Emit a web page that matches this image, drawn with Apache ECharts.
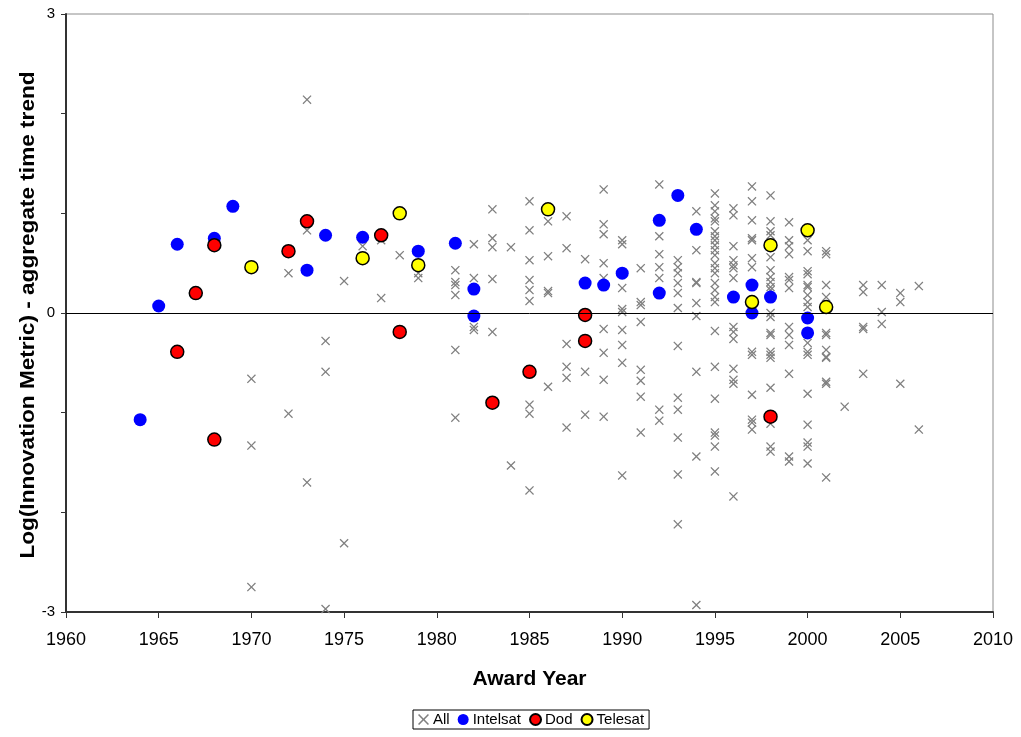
<!DOCTYPE html>
<html>
<head>
<meta charset="UTF-8">
<title>Award Year scatter</title>
<script src="https://cdn.jsdelivr.net/npm/echarts@6/dist/echarts.min.js"></script>
<style>
  html, body { margin: 0; padding: 0; background: #fff; }
</style>
</head>
<body>
<div id="main" style="width:1021px;height:737px;"></div>
<script type="text/javascript">
// gray "All" marks, one row per award year: [year, values...]
var allRows = [
  [1970, -0.66, -1.33, -2.75],
  [1972, 0.40, -1.01],
  [1973, 2.14, 0.83, -1.70],
  [1974, -0.28, -0.59, -2.97],
  [1975, 0.32, -2.31],
  [1976, 0.67],
  [1977, 0.73, 0.15],
  [1978, 0.58],
  [1979, 0.40, 0.35],
  [1981, 0.43, 0.31, 0.28, 0.18, -0.37, -1.05],
  [1982, 0.69, 0.35, -0.14, -0.17],
  [1983, 1.04, 0.75, 0.66, 0.34, -0.19],
  [1984, 0.66, -1.53],
  [1985, 1.12, 0.83, 0.53, 0.33, 0.23, 0.12, -0.92, -1.01, -1.78],
  [1986, 0.92, 0.57, 0.22, 0.20, -0.74],
  [1987, 0.97, 0.65, -0.31, -0.54, -0.65, -1.15],
  [1988, 0.54, -0.59, -1.02],
  [1989, 1.24, 0.89, 0.79, 0.50, 0.35, -0.16, -0.40, -0.67, -1.04],
  [1990, 0.73, 0.69, 0.25, 0.04, 0.01, -0.17, -0.32, -0.50, -1.63],
  [1991, 0.45, 0.11, 0.08, -0.09, -0.57, -0.68, -0.84, -1.20],
  [1992, 1.29, 0.77, 0.59, 0.46, 0.35, -0.97, -1.08],
  [1993, 0.53, 0.46, 0.40, 0.30, 0.20, 0.05, -0.33, -0.85, -0.97, -1.25, -1.62, -2.12],
  [1994, 1.02, 0.63, 0.31, 0.30, 0.10, -0.03, -0.59, -1.44, -2.93],
  [1995, 1.20, 1.08, 1.02, 0.95, 0.92, 0.82, 0.77, 0.73, 0.68, 0.63, 0.58, 0.50, 0.45, 0.40, 0.30, 0.23, 0.16, 0.11, -0.18, -0.54, -0.86, -1.20, -1.23, -1.34, -1.59],
  [1996, 1.05, 0.98, 0.67, 0.53, 0.48, 0.45, 0.35, -0.14, -0.19, -0.26, -0.56, -0.67, -0.71, -1.84],
  [1997, 1.27, 1.12, 0.93, 0.75, 0.73, 0.55, 0.46, -0.39, -0.42, -0.82, -1.07, -1.10, -1.17],
  [1998, 1.18, 0.92, 0.82, 0.78, 0.56, 0.43, 0.36, 0.31, 0.26, 0.23, 0.00, -0.04, -0.20, -0.22, -0.39, -0.42, -0.45, -0.75, -1.11, -1.34, -1.39],
  [1999, 0.91, 0.73, 0.67, 0.59, 0.36, 0.33, 0.25, -0.14, -0.22, -0.32, -0.61, -1.44, -1.49],
  [2000, 0.73, 0.62, 0.42, 0.39, 0.28, 0.26, 0.18, 0.11, 0.06, -0.30, -0.39, -0.42, -0.81, -1.12, -1.30, -1.34, -1.51],
  [2001, 0.62, 0.59, 0.28, 0.16, -0.20, -0.22, -0.37, -0.44, -0.45, -0.69, -0.71, -1.65],
  [2002, -0.94],
  [2003, 0.28, 0.21, -0.14, -0.16, -0.61],
  [2004, 0.28, 0.01, -0.11],
  [2005, 0.20, 0.11, -0.71],
  [2006, 0.27, -1.17]
];

var intelsatPoints = [
  [1964, -1.07], [1965, 0.07], [1966, 0.69], [1968, 0.75], [1969, 1.07],
  [1973, 0.43], [1974, 0.78], [1976, 0.76], [1979, 0.62], [1981, 0.70],
  [1982, 0.24], [1982, -0.03], [1988, 0.30], [1989, 0.28], [1990, 0.40],
  [1992, 0.93], [1992, 0.20], [1993, 1.18], [1994, 0.84], [1996, 0.16],
  [1997, 0.28], [1997, 0.00], [1998, 0.16], [2000, -0.05], [2000, -0.20]
];

var dodPoints = [
  [1966, -0.39], [1967, 0.20], [1968, 0.68], [1968, -1.27], [1972, 0.62],
  [1973, 0.92], [1977, 0.78], [1978, -0.19], [1983, -0.90], [1985, -0.59],
  [1988, -0.02], [1988, -0.28], [1998, -1.04]
];

var telesatPoints = [
  [1970, 0.46], [1976, 0.55], [1978, 1.00], [1979, 0.48], [1986, 1.04],
  [1997, 0.11], [1998, 0.68], [2000, 0.83], [2001, 0.06]
];

var yLabelValues = [-3, 0, 3];

var allPoints = [];
allRows.forEach(function (row) {
  for (var i = 1; i < row.length; i++) allPoints.push([row[0], row[i]]);
});

var font = "'Liberation Sans', Arial, sans-serif";
var crossPath = 'path://M0,1L1,0L5,4L9,0L10,1L6,5L10,9L9,10L5,6L1,10L0,9L4,5Z';

var myChart = echarts.init(document.getElementById('main'));

var option = {
  animation: false,
  backgroundColor: '#fff',
  textStyle: { fontFamily: font },
  grid: {
    left: 66, right: 28, top: 14, bottom: 125,
    show: true, borderColor: '#8c8c8c', borderWidth: 1
  },
  // y axis title, stretched a little along its length like the original
  graphic: [{
    type: 'text', x: 28, y: 315, rotation: Math.PI / 2, scaleX: 1.13,
    style: {
      text: 'Log(Innovation Metric) - aggregate time trend',
      font: 'bold 20px ' + font, fill: '#000',
      textAlign: 'center', textVerticalAlign: 'middle'
    }
  }],
  legend: {
    left: 413, top: 710,
    borderColor: '#000', borderWidth: 1, padding: [2, 5],
    itemGap: 8, itemWidth: 11, itemHeight: 11,
    textStyle: { fontFamily: font, fontSize: 15, color: '#000', padding: [0, 0, 0, -1] },
    data: ['All', 'Intelsat', 'Dod', 'Telesat']
  },
  xAxis: {
    type: 'value', min: 1960, max: 2010, interval: 5,
    name: 'Award Year', nameLocation: 'middle', nameGap: 57,
    nameTextStyle: { fontFamily: font, fontSize: 21, fontWeight: 'bold', color: '#000' },
    axisLine: { onZero: false, lineStyle: { color: '#333', width: 2 } },
    axisTick: { show: true, length: 6, lineStyle: { color: '#333' } },
    axisLabel: {
      fontFamily: font, fontSize: 18, color: '#000', margin: 19,
      formatter: function (v) { return String(v); }
    },
    splitLine: { show: false }
  },
  yAxis: {
    type: 'value', min: -3, max: 3, interval: 1,
    axisLine: { show: true, onZero: false, lineStyle: { color: '#333', width: 2 } },
    axisTick: { show: true, length: 5, lineStyle: { color: '#333' } },
    axisLabel: {
      fontFamily: font, fontSize: 15, color: '#000', margin: 11,
      formatter: function (v) { return yLabelValues.indexOf(v) >= 0 ? String(v) : ''; }
    },
    splitLine: { show: false }
  },
  series: [
    {
      name: 'All', type: 'scatter', data: allPoints,
      symbol: crossPath, symbolSize: 9,
      itemStyle: { color: '#808080', opacity: 1 },
      markLine: {
        silent: true, symbol: 'none', label: { show: false },
        lineStyle: { color: '#000', width: 1, type: 'solid' },
        data: [{ yAxis: 0 }]
      },
      z: 2
    },
    {
      name: 'Intelsat', type: 'scatter', data: intelsatPoints,
      symbol: 'circle', symbolSize: 13,
      itemStyle: { color: '#0000ff', opacity: 1 }, z: 3
    },
    {
      name: 'Dod', type: 'scatter', data: dodPoints,
      symbol: 'circle', symbolSize: 13,
      itemStyle: { color: '#ff0000', borderColor: '#000', borderWidth: 1.5, opacity: 1 }, z: 4
    },
    {
      name: 'Telesat', type: 'scatter', data: telesatPoints,
      symbol: 'circle', symbolSize: 13,
      itemStyle: { color: '#ffff00', borderColor: '#000', borderWidth: 1.5, opacity: 1 }, z: 5
    }
  ]
};

myChart.setOption(option);
</script>
</body>
</html>
